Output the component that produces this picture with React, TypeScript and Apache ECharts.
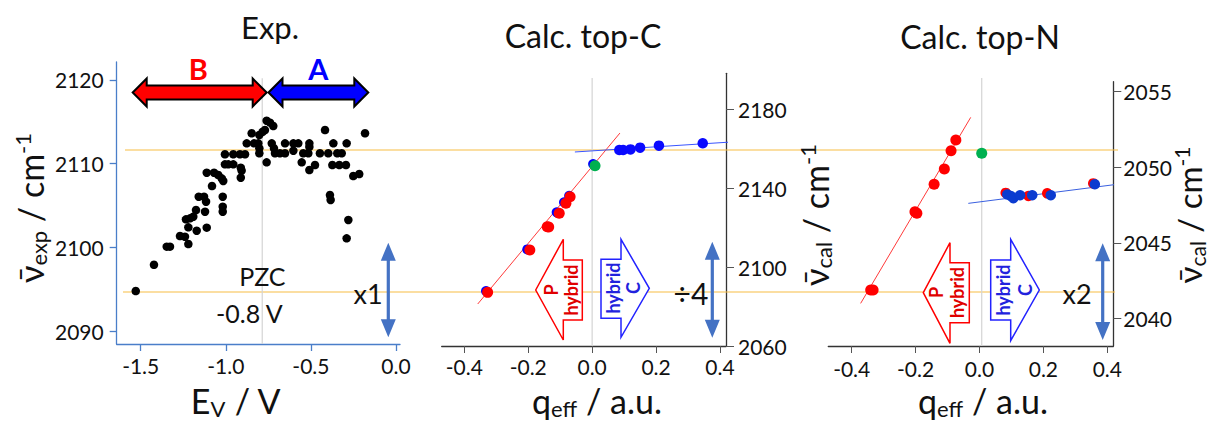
import React, { useEffect, useRef } from 'react';
import * as echarts from 'echarts';

// ---------- data ----------
const expTicksX = [-1.5, -1.0, -0.5, 0.0];
const expTicksY = [2090, 2100, 2110, 2120];
const calcTicksX = [-0.4, -0.2, 0.0, 0.2, 0.4];
const topCTicksY = [2060, 2100, 2140, 2180];
const topNTicksY = [2040, 2045, 2050, 2055];

const pzcVoltage = -0.786;

// Exp.: E_V (V) vs wavenumber (cm-1)
const expPoints: [number, number][] = [
  [-1.529, 2094.78], [-1.422, 2097.92], [-1.347, 2100.08], [-1.328, 2100.08],
  [-1.269, 2101.35], [-1.240, 2101.27], [-1.220, 2100.40], [-1.220, 2102.39],
  [-1.234, 2103.35], [-1.210, 2103.47], [-1.191, 2103.66], [-1.175, 2104.46],
  [-1.171, 2101.99], [-1.159, 2106.05], [-1.128, 2106.05], [-1.116, 2105.45],
  [-1.122, 2104.26], [-1.112, 2102.35], [-1.112, 2108.92], [-1.081, 2107.33],
  [-1.069, 2108.92], [-1.044, 2108.64], [-1.024, 2108.25], [-1.015, 2107.93],
  [-1.018, 2106.05], [-1.018, 2104.86], [-1.018, 2104.26], [-1.005, 2111.12],
  [-1.005, 2109.92], [-0.985, 2109.92], [-0.956, 2111.12], [-0.956, 2109.92],
  [-0.912, 2109.52], [-0.907, 2109.16], [-0.912, 2108.32], [-0.917, 2111.12],
  [-0.887, 2111.12], [-0.877, 2112.43], [-0.848, 2113.63], [-0.834, 2112.43],
  [-0.809, 2112.43], [-0.803, 2111.84], [-0.803, 2111.24], [-0.803, 2113.43],
  [-0.783, 2113.82], [-0.770, 2114.02], [-0.760, 2115.13], [-0.740, 2114.90],
  [-0.721, 2114.50], [-0.760, 2110.16], [-0.730, 2112.43], [-0.717, 2111.84],
  [-0.711, 2111.24], [-0.682, 2111.24], [-0.652, 2112.43], [-0.652, 2111.24],
  [-0.603, 2112.43], [-0.603, 2111.55], [-0.574, 2112.43], [-0.554, 2110.16],
  [-0.545, 2111.24], [-0.515, 2111.24], [-0.509, 2112.43], [-0.509, 2112.00],
  [-0.509, 2109.24], [-0.476, 2109.84], [-0.447, 2111.24], [-0.417, 2114.02],
  [-0.398, 2111.24], [-0.388, 2106.25], [-0.384, 2105.66], [-0.374, 2109.84],
  [-0.368, 2112.43], [-0.345, 2111.24], [-0.333, 2109.84], [-0.319, 2111.24],
  [-0.294, 2109.84], [-0.290, 2112.43], [-0.280, 2103.27], [-0.290, 2101.08],
  [-0.251, 2108.52], [-0.216, 2108.76], [-0.182, 2113.63],
];

// Calc. top-C : q_eff vs wavenumber
const topCBlueLow: [number, number][] = [
  [-0.332, 2087.9], [-0.203, 2109.0], [-0.111, 2127.8], [-0.088, 2132.9],
  [-0.072, 2136.2], [0.003, 2152.3],
];
const topCRed: [number, number][] = [
  [-0.327, 2087.2], [-0.195, 2108.7], [-0.1405, 2120.5], [-0.136, 2120.3],
  [-0.103, 2127.3], [-0.082, 2132.4], [-0.069, 2135.7],
];
const topCBlueHigh: [number, number][] = [
  [0.085, 2159.4], [0.097, 2159.4], [0.12, 2159.7], [0.15, 2160.6],
  [0.209, 2161.6], [0.346, 2162.8],
];
const topCGreen: [number, number][] = [[0.009, 2151.4]];
const topCRedFit: [number, number][] = [[-0.358, 2081.3], [0.087, 2168.0]];
const topCBlueFit: [number, number][] = [[-0.054, 2158.4], [0.4875, 2164.0]];

// Calc. top-N : q_eff vs wavenumber
const topNRed: [number, number][] = [
  [-0.3405, 2041.87], [-0.333, 2041.87], [-0.202, 2047.05], [-0.196, 2046.95],
  [-0.142, 2048.87], [-0.110, 2049.88], [-0.089, 2051.09], [-0.074, 2051.8],
];
const topNRedHigh: [number, number][] = [
  [0.082, 2048.3], [0.153, 2048.1], [0.212, 2048.27], [0.356, 2048.93],
];
const topNBlue: [number, number][] = [
  [0.087, 2048.2], [0.098, 2048.1], [0.106, 2047.95], [0.127, 2048.15],
  [0.165, 2048.15], [0.223, 2048.15], [0.361, 2048.87],
];
const topNGreen: [number, number][] = [[0.007, 2050.92]];
const topNRedFit: [number, number][] = [[-0.372, 2040.99], [-0.0275, 2053.3]];
const topNBlueFit: [number, number][] = [[-0.035, 2047.61], [0.453, 2048.93]];

// ---------- styling ----------
const FONT = 'Lato, "Open Sans", sans-serif';
const AXBLUE = '#4a7ec9';
const AXDARK = '#333333';
const GRAY = '#d4d4d4';
const ORANGE = '#f7bd45';
const ARROWBLUE = '#4472C4';

function vArrow(cx: number, top: number, bot: number) {
  const hw = 7.5, sw = 1.6, hl = 18;
  return {
    type: 'polygon',
    z: 20,
    shape: {
      points: [
        [cx, top], [cx + hw, top + hl], [cx + sw, top + hl], [cx + sw, bot - hl],
        [cx + hw, bot - hl], [cx, bot], [cx - hw, bot - hl], [cx - sw, bot - hl],
        [cx - sw, top + hl], [cx - hw, top + hl],
      ],
    },
    style: { fill: ARROWBLUE },
  };
}

function hArrow(x1: number, x2: number, yc: number, fill: string) {
  const hh = 14, sh = 7, hl = 14;
  return {
    type: 'polygon',
    z: 20,
    shape: {
      points: [
        [x1, yc], [x1 + hl, yc - hh], [x1 + hl, yc - sh], [x2 - hl, yc - sh],
        [x2 - hl, yc - hh], [x2, yc], [x2 - hl, yc + hh], [x2 - hl, yc + sh],
        [x1 + hl, yc + sh], [x1 + hl, yc + hh],
      ],
    },
    style: { fill, stroke: '#000', lineWidth: 2, lineJoin: 'miter' },
  };
}

function txt(x: number, y: number, text: string, fontSize: number, extra: any = {}) {
  return {
    type: 'text',
    x,
    y,
    z: 30,
    rotation: extra.rotation || 0,
    style: {
      text,
      fill: extra.fill || '#111',
      fontSize,
      fontFamily: FONT,
      fontWeight: extra.fontWeight || 'normal',
      align: 'center',
      verticalAlign: 'middle',
      lineHeight: extra.lineHeight,
      rich: extra.rich,
    },
  };
}

const subRich = (main: number, sub: number) => ({
  m: { fontSize: main, fontFamily: FONT, fill: '#111', lineHeight: main + 4 },
  s: { fontSize: sub, fontFamily: FONT, fill: '#111', verticalAlign: 'bottom', lineHeight: main + 4, padding: [11, 0, 0, 0] },
  u: { fontSize: sub, fontFamily: FONT, fill: '#111', verticalAlign: 'top', lineHeight: main + 4, padding: [0, 0, 10, 0] },
});

export default function App() {
  const ref = useRef<HTMLDivElement>(null);
  useEffect(() => {
    if (!ref.current) return;
    const chart = echarts.init(ref.current, null, { renderer: 'svg' });

    const tickLabel = { fontSize: 21, fontFamily: FONT, color: '#111' };
    const fmt1 = (v: number) => v.toFixed(1);
    const fmt0 = (v: number) => String(Math.round(v));
    const dot = (color: string) => ({ color, opacity: 1 });

    const option: any = {
      animation: false,
      backgroundColor: '#fff',
      grid: [
        { left: 116.7, top: 62, width: 283.3, height: 282 },
        { left: 441.7, top: 73.3, width: 284.3, height: 272.7 },
        { left: 828.3, top: 81.7, width: 285, height: 264.3 },
      ],
      xAxis: [
        {
          gridIndex: 0, type: 'value', min: -1.641, max: 0.0235,
          axisLine: { onZero: false, lineStyle: { color: AXBLUE, width: 1.3 } },
          axisTick: { length: 7, customValues: expTicksX, lineStyle: { color: AXBLUE, width: 1.3 } },
          axisLabel: { ...tickLabel, margin: 11, customValues: expTicksX, formatter: fmt1 },
          splitLine: { show: false },
        },
        {
          gridIndex: 1, type: 'value', min: -0.4707, max: 0.4188,
          axisLine: { onZero: false, lineStyle: { color: AXDARK, width: 1.3 } },
          axisTick: { length: 7, customValues: calcTicksX, lineStyle: { color: '#555', width: 1 } },
          axisLabel: { ...tickLabel, margin: 10, customValues: calcTicksX, formatter: fmt1 },
          splitLine: { show: false },
        },
        {
          gridIndex: 2, type: 'value', min: -0.4732, max: 0.4188,
          axisLine: { onZero: false, lineStyle: { color: AXDARK, width: 1.3 } },
          axisTick: { length: 7, customValues: calcTicksX, lineStyle: { color: '#555', width: 1 } },
          axisLabel: { ...tickLabel, margin: 12, customValues: calcTicksX, formatter: fmt1 },
          splitLine: { show: false },
        },
      ],
      yAxis: [
        {
          gridIndex: 0, type: 'value', position: 'left', min: 2088.45, max: 2122.15,
          axisLine: { show: true, onZero: false, lineStyle: { color: AXBLUE, width: 1.3 } },
          axisTick: { show: true, length: 7, customValues: expTicksY, lineStyle: { color: AXBLUE, width: 1.3 } },
          axisLabel: { ...tickLabel, margin: 13, customValues: expTicksY, formatter: fmt0 },
          splitLine: { show: false },
        },
        {
          gridIndex: 1, type: 'value', position: 'right', min: 2060, max: 2198.3,
          axisLine: { show: true, onZero: false, lineStyle: { color: AXDARK, width: 1.3 } },
          axisTick: { show: true, length: 8, customValues: topCTicksY, lineStyle: { color: '#555', width: 1 } },
          axisLabel: { ...tickLabel, margin: 12, customValues: topCTicksY, formatter: fmt0 },
          splitLine: { show: false },
        },
        {
          gridIndex: 2, type: 'value', position: 'right', min: 2038.17, max: 2055.66,
          axisLine: { show: true, onZero: false, lineStyle: { color: AXDARK, width: 1.3 } },
          axisTick: { show: true, length: 8, customValues: topNTicksY, lineStyle: { color: '#555', width: 1 } },
          axisLabel: { ...tickLabel, margin: 10, customValues: topNTicksY, formatter: fmt0 },
          splitLine: { show: false },
        },
      ],
      series: [
        // reference vertical lines
        {
          type: 'line', xAxisIndex: 0, yAxisIndex: 0, symbol: 'none', silent: true, clip: false,
          data: [[pzcVoltage, 2088.45], [pzcVoltage, 2120.2]],
          lineStyle: { color: GRAY, width: 1.2 }, z: 1,
        },
        {
          type: 'line', xAxisIndex: 1, yAxisIndex: 1, symbol: 'none', silent: true, clip: false,
          data: [[0, 2060], [0, 2195.9]],
          lineStyle: { color: GRAY, width: 1.2 }, z: 1,
        },
        {
          type: 'line', xAxisIndex: 2, yAxisIndex: 2, symbol: 'none', silent: true, clip: false,
          data: [[0.007, 2038.17], [0.007, 2055.9]],
          lineStyle: { color: GRAY, width: 1.2 }, z: 1,
        },
        // Exp scatter
        {
          type: 'scatter', xAxisIndex: 0, yAxisIndex: 0, data: expPoints, symbolSize: 8.5,
          itemStyle: dot('#000'), z: 5,
        },
        // top-C
        {
          type: 'line', xAxisIndex: 1, yAxisIndex: 1, data: topCRedFit, symbol: 'none', clip: false,
          lineStyle: { color: '#ff3a3a', width: 1 }, z: 3,
        },
        {
          type: 'line', xAxisIndex: 1, yAxisIndex: 1, data: topCBlueFit, symbol: 'none', clip: false,
          lineStyle: { color: '#3a55ff', width: 1 }, z: 3,
        },
        {
          type: 'scatter', xAxisIndex: 1, yAxisIndex: 1, data: topCBlueLow, symbolSize: 10,
          itemStyle: dot('#0000ff'), z: 4,
        },
        {
          type: 'scatter', xAxisIndex: 1, yAxisIndex: 1, data: topCRed, symbolSize: 11,
          itemStyle: dot('#ff0000'), z: 5,
        },
        {
          type: 'scatter', xAxisIndex: 1, yAxisIndex: 1, data: topCBlueHigh, symbolSize: 10.5,
          itemStyle: dot('#0a0aff'), z: 5,
        },
        {
          type: 'scatter', xAxisIndex: 1, yAxisIndex: 1, data: topCGreen, symbolSize: 11,
          itemStyle: dot('#00b050'), z: 6,
        },
        // top-N
        {
          type: 'line', xAxisIndex: 2, yAxisIndex: 2, data: topNRedFit, symbol: 'none', clip: false,
          lineStyle: { color: '#ff3a3a', width: 1 }, z: 3,
        },
        {
          type: 'line', xAxisIndex: 2, yAxisIndex: 2, data: topNBlueFit, symbol: 'none', clip: false,
          lineStyle: { color: '#3a60e0', width: 1 }, z: 3,
        },
        {
          type: 'scatter', xAxisIndex: 2, yAxisIndex: 2, data: topNRedHigh, symbolSize: 10.5,
          itemStyle: dot('#ff0000'), z: 4,
        },
        {
          type: 'scatter', xAxisIndex: 2, yAxisIndex: 2, data: topNRed, symbolSize: 11,
          itemStyle: dot('#ff0000'), z: 5,
        },
        {
          type: 'scatter', xAxisIndex: 2, yAxisIndex: 2, data: topNBlue, symbolSize: 10.5,
          itemStyle: dot('#0b3bd0'), z: 5,
        },
        {
          type: 'scatter', xAxisIndex: 2, yAxisIndex: 2, data: topNGreen, symbolSize: 11,
          itemStyle: dot('#00b050'), z: 6,
        },
      ],
      graphic: [
        // orange guide lines across panels
        { type: 'line', z: 1, shape: { x1: 125, y1: 150, x2: 1118, y2: 150 }, style: { stroke: ORANGE, lineWidth: 1.2 } },
        { type: 'line', z: 1, shape: { x1: 123, y1: 292, x2: 1115, y2: 292 }, style: { stroke: ORANGE, lineWidth: 1.2 } },
        // titles
        txt(270, 27, 'Exp.', 31),
        txt(583, 35, 'Calc. top-C', 32),
        txt(980, 36, 'Calc. top-N', 32),
        // axis names
        txt(236, 400, '{m|E}{s|V}{m| / V}', 34, { rich: subRich(34, 22) }),
        txt(597, 400, '{m|q}{s|eff}{m| / a.u.}', 34, { rich: subRich(34, 22) }),
        txt(983, 400, '{m|q}{s|eff}{m| / a.u.}', 34, { rich: subRich(34, 22) }),
        txt(30, 208, '{m|ν̄}{s|exp}{m| / cm}{u|-1}', 34, { rotation: Math.PI / 2, rich: subRich(34, 22) }),
        txt(815, 215, '{m|ν̄}{s|cal}{m| / cm}{u|-1}', 34, { rotation: Math.PI / 2, rich: subRich(34, 22) }),
        txt(1189, 215, '{m|ν̄}{s|cal}{m| / cm}{u|-1}', 33, { rotation: Math.PI / 2, rich: subRich(33, 21) }),
        // panel 1 annotations
        hArrow(132.7, 266.7, 92.5, '#ff0000'),
        hArrow(268.5, 368.3, 92.5, '#0000ff'),
        txt(198.3, 68, 'B', 29, { fill: '#ff0000', fontWeight: 'bold' }),
        txt(318.3, 68, 'A', 29, { fill: '#0000ff', fontWeight: 'bold' }),
        txt(262.3, 276, 'PZC', 25),
        txt(249.3, 313, '-0.8 V', 25),
        txt(368, 293, 'x1', 27),
        vArrow(388.3, 242.7, 337.3),
        // panel 2 annotations
        {
          type: 'polygon', z: 15,
          shape: { points: [[535.7, 290], [563.3, 239.3], [563.3, 260], [582.3, 260], [582.3, 320], [563.3, 320], [563.3, 340]] },
          style: { fill: '#fff', stroke: '#ff0000', lineWidth: 1.5 },
        },
        {
          type: 'polygon', z: 15,
          shape: { points: [[601, 259.3], [621, 259.3], [621, 239.3], [649.3, 288.3], [621, 337.3], [621, 318.3], [601, 318.3]] },
          style: { fill: '#fff', stroke: '#2222ff', lineWidth: 1.5 },
        },
        txt(561, 290, 'P\nhybrid', 18, { rotation: Math.PI / 2, fill: '#e00000', fontWeight: 'bold', lineHeight: 20 }),
        txt(623, 288, 'hybrid\nC', 18, { rotation: Math.PI / 2, fill: '#2222dd', fontWeight: 'bold', lineHeight: 20 }),
        txt(691, 293, '÷4', 30),
        vArrow(712.3, 241.7, 337.7),
        // panel 3 annotations
        {
          type: 'polygon', z: 15,
          shape: { points: [[923.3, 292.7], [950, 242.7], [950, 262.7], [969.3, 262.7], [969.3, 322.7], [950, 322.7], [950, 343.3]] },
          style: { fill: '#fff', stroke: '#ff0000', lineWidth: 1.5 },
        },
        {
          type: 'polygon', z: 15,
          shape: { points: [[990.7, 260], [1010.7, 260], [1010.7, 239.3], [1039.3, 290], [1010.7, 340.7], [1010.7, 320], [990.7, 320]] },
          style: { fill: '#fff', stroke: '#2222ff', lineWidth: 1.5 },
        },
        txt(946.7, 292.5, 'P\nhybrid', 18, { rotation: Math.PI / 2, fill: '#e00000', fontWeight: 'bold', lineHeight: 21 }),
        txt(1013.5, 290, 'hybrid\nC', 18, { rotation: Math.PI / 2, fill: '#2222dd', fontWeight: 'bold', lineHeight: 22 }),
        txt(1077, 293, 'x2', 27),
        vArrow(1102.7, 243.3, 340),
      ],
    };

    chart.setOption(option);
    return () => chart.dispose();
  }, []);

  return (
    <div
      ref={ref}
      style={{ position: 'fixed', left: 0, top: 0, width: 1212, height: 423, background: '#fff' }}
    />
  );
}
